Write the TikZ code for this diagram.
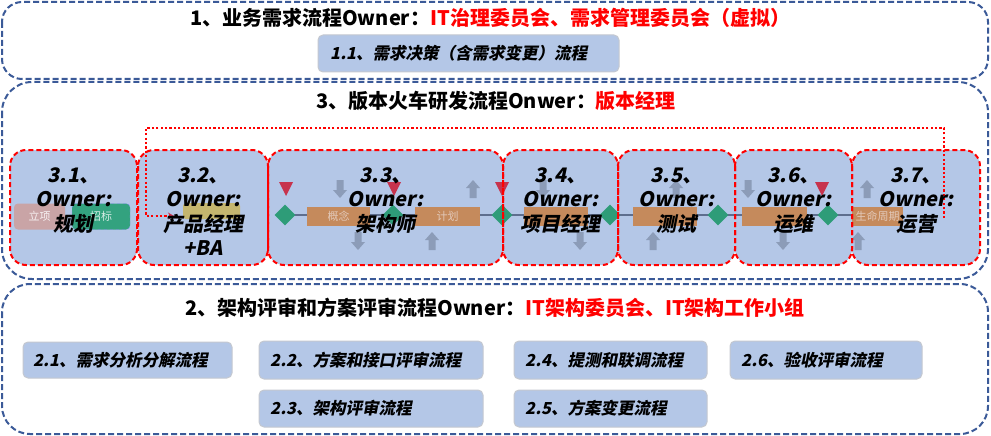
\documentclass[tikz,border=0pt]{standalone}
\usepackage{fontspec}
\setmainfont{Noto Sans CJK SC}
\newfontfamily\bislfam{Noto Sans CJK SC}[FakeSlant=0.2]
\usetikzlibrary{arrows.meta,shapes.geometric}
\definecolor{boxblue}{HTML}{B4C7E7}
\definecolor{framebl}{HTML}{3B5A98}
\definecolor{subedge}{HTML}{C4C8D0}
\definecolor{barorg}{HTML}{C58A5C}
\definecolor{dgreen}{HTML}{2E9C78}
\definecolor{tricol}{HTML}{C7334D}
\definecolor{garrow}{HTML}{8C9CB8}
\definecolor{pline}{HTML}{5E6E8E}
\definecolor{ttred}{HTML}{FF0000}
\definecolor{lxcol}{HTML}{C9A4A6}
\definecolor{zbcol}{HTML}{33A27F}
\definecolor{xqcol}{HTML}{C4B66F}
\definecolor{faint}{HTML}{E2C8B8}
\tikzset{
  frame/.style={draw=framebl, line width=2pt, dash pattern=on 6pt off 3pt},
  subbox/.style={draw=subedge, line width=1pt, fill=boxblue, rounded corners=5pt},
  subtext/.style={font=\fontsize{16.5}{19}\selectfont\bislfam\bfseries, anchor=west, inner sep=0pt},
  stagebox/.style={draw=red, fill=boxblue, line width=2pt, dash pattern=on 5pt off 3pt, rounded corners=16pt},
  stagetext/.style={font=\fontsize{20}{24.5}\selectfont\bislfam\bfseries, align=center, anchor=north, inner sep=0pt},
  titletext/.style={font=\fontsize{20}{22}\selectfont\bfseries, inner sep=0pt},
  bar/.style={fill=barorg, minimum height=19pt, inner sep=0pt, text=faint, font=\fontsize{11}{12}\selectfont},
  gdiam/.style={diamond, fill=dgreen, minimum width=21pt, minimum height=21pt, inner sep=0pt},
  darr/.pic={\fill[garrow] (-3.5,-9) rectangle (3.5,1) (-7,1) -- (7,1) -- (0,9) -- cycle;},
  uarr/.pic={\fill[garrow] (-3.5,9) rectangle (3.5,-1) (-7,-1) -- (7,-1) -- (0,-9) -- cycle;},
  tdown/.pic={\fill[tricol] (-7,-7) -- (7,-7) -- (0,7) -- cycle;},
}
\begin{document}
\begin{tikzpicture}[x=1pt,y=-1pt]
\useasboundingbox (0,0) rectangle (991,436);
\fill[white] (0,0) rectangle (991,436);

% frames
\draw[frame, rounded corners=20pt] (2,2) rectangle (988,79);
\draw[frame, rounded corners=30pt] (2,82) rectangle (988,279);
\draw[frame, rounded corners=28pt] (2,284) rectangle (988,434);

% titles
\node[titletext] (t1) at (490,18) {1、业务需求流程Owner：\textcolor{ttred}{IT治理委员会、需求管理委员会（虚拟）}};
\node[titletext] (t3) at (496,101) {3、版本火车研发流程Onwer：\textcolor{ttred}{版本经理}};
\node[titletext] (t2) at (495,308) {2、架构评审和方案评审流程Owner：\textcolor{ttred}{IT架构委员会、IT架构工作小组}};

% sub boxes
\path[subbox] (318,35) rectangle (619,72);
\node[subtext] (s11) at (330,53.5) {1.1、需求决策（含需求变更）流程};
\path[subbox] (23,342) rectangle (232,378);
\node[subtext] (s21) at (33,360) {2.1、需求分析分解流程};
\path[subbox] (259,341) rectangle (483,379);
\node[subtext] (s22) at (270,360) {2.2、方案和接口评审流程};
\path[subbox] (259,390) rectangle (483,427);
\node[subtext] (s23) at (270,408.5) {2.3、架构评审流程};
\path[subbox] (514,341) rectangle (707,379);
\node[subtext] (s24) at (525,360) {2.4、提测和联调流程};
\path[subbox] (514,390) rectangle (707,427);
\node[subtext] (s25) at (525,408.5) {2.5、方案变更流程};
\path[subbox] (730,341) rectangle (922,379);
\node[subtext] (s26) at (741,360) {2.6、验收评审流程};

% stage fills
\fill[boxblue, rounded corners=16pt] (10,150) rectangle (137,265);
\fill[boxblue, rounded corners=16pt] (138,150) rectangle (268,265);
\fill[boxblue, rounded corners=16pt] (268,150) rectangle (503,265);
\fill[boxblue, rounded corners=16pt] (503,150) rectangle (618,265);
\fill[boxblue, rounded corners=16pt] (618,150) rectangle (735,265);
\fill[boxblue, rounded corners=16pt] (735,150) rectangle (852,265);
\fill[boxblue, rounded corners=16pt] (852,150) rectangle (980,265);

% faded process picture
\node[fill=lxcol, rounded corners=4pt, minimum width=51pt, minimum height=26pt, inner sep=0pt, text=white!85!lxcol, font=\fontsize{11}{12}\selectfont] (lx) at (39.5,216.5) {立项};
\node[fill=zbcol, draw=boxblue!70!blue, dashed, rounded corners=4pt, minimum width=58pt, minimum height=26pt, inner sep=0pt, text=white!80!zbcol, font=\fontsize{11}{12}\selectfont] (zb) at (101,216.5) {招标};
\node[fill=xqcol, rounded corners=3pt, minimum width=57pt, minimum height=16pt, inner sep=0pt] (xq) at (211.5,211) {};
\draw[pline, line width=1.5pt] (285,215) -- (880,215);
\node[bar, minimum width=63pt] (b1) at (338.5,216) {概念};
\node[bar, minimum width=65pt] (b2) at (447.5,216) {计划};
\node[bar, minimum width=64pt] (b3) at (556,216) {};
\node[bar, minimum width=64pt] (b4) at (665,216) {};
\node[bar, minimum width=65pt] (b5) at (774.5,216) {};
\node[bar, minimum width=51pt] (b6) at (877.5,216) {生命周期};
\foreach \x [count=\i] in {285,393,502,610,718,828} \node[gdiam] (d\i) at (\x,215) {};
\foreach \x in {286,394,502,822} \pic at (\x,189) {tdown};
\foreach \x in {340,543,748} \pic at (\x,189) {darr};
\foreach \x in {358,580,783} \pic at (\x,241) {darr};
\foreach \x in {473,676,867} \pic at (\x,189) {uarr};
\foreach \x in {432,653,858} \pic at (\x,241) {uarr};

% stage borders
\draw[stagebox, fill=none] (10,150) rectangle (137,265);
\draw[stagebox, fill=none] (138,150) rectangle (268,265);
\draw[stagebox, fill=none] (268,150) rectangle (503,265);
\draw[stagebox, fill=none] (503,150) rectangle (618,265);
\draw[stagebox, fill=none] (618,150) rectangle (735,265);
\draw[stagebox, fill=none] (735,150) rectangle (852,265);
\draw[stagebox, fill=none] (852,150) rectangle (980,265);

% dotted connector
\coordinate (pa) at (944,218);
\coordinate (pb) at (944,128);
\coordinate (pc) at (146,128);
\coordinate (pd) at (146,216);
\coordinate (pe) at (174,216);
\draw[red, line width=2.2pt, dash pattern=on 2.2pt off 2.2pt, -{Stealth[length=6pt,width=7pt,color=tricol]}] (pa) -- (pb) -- (pc) -- (pd) -- (pe);

% stage texts
\node[stagetext] (g1) at (73.5,167) {3.1、\\Owner:\\规划};
\node[stagetext] (g2) at (203,167) {3.2、\\Owner:\\产品经理\\+BA};
\node[stagetext] (g3) at (385.5,167) {3.3、\\Owner:\\架构师};
\node[stagetext] (g4) at (560.5,167) {3.4、\\Owner:\\项目经理};
\node[stagetext] (g5) at (676.5,167) {3.5、\\Owner:\\测试};
\node[stagetext] (g6) at (793.5,167) {3.6、\\Owner:\\运维};
\node[stagetext] (g7) at (916,167) {3.7、\\Owner:\\运营};
\end{tikzpicture}
\end{document}
